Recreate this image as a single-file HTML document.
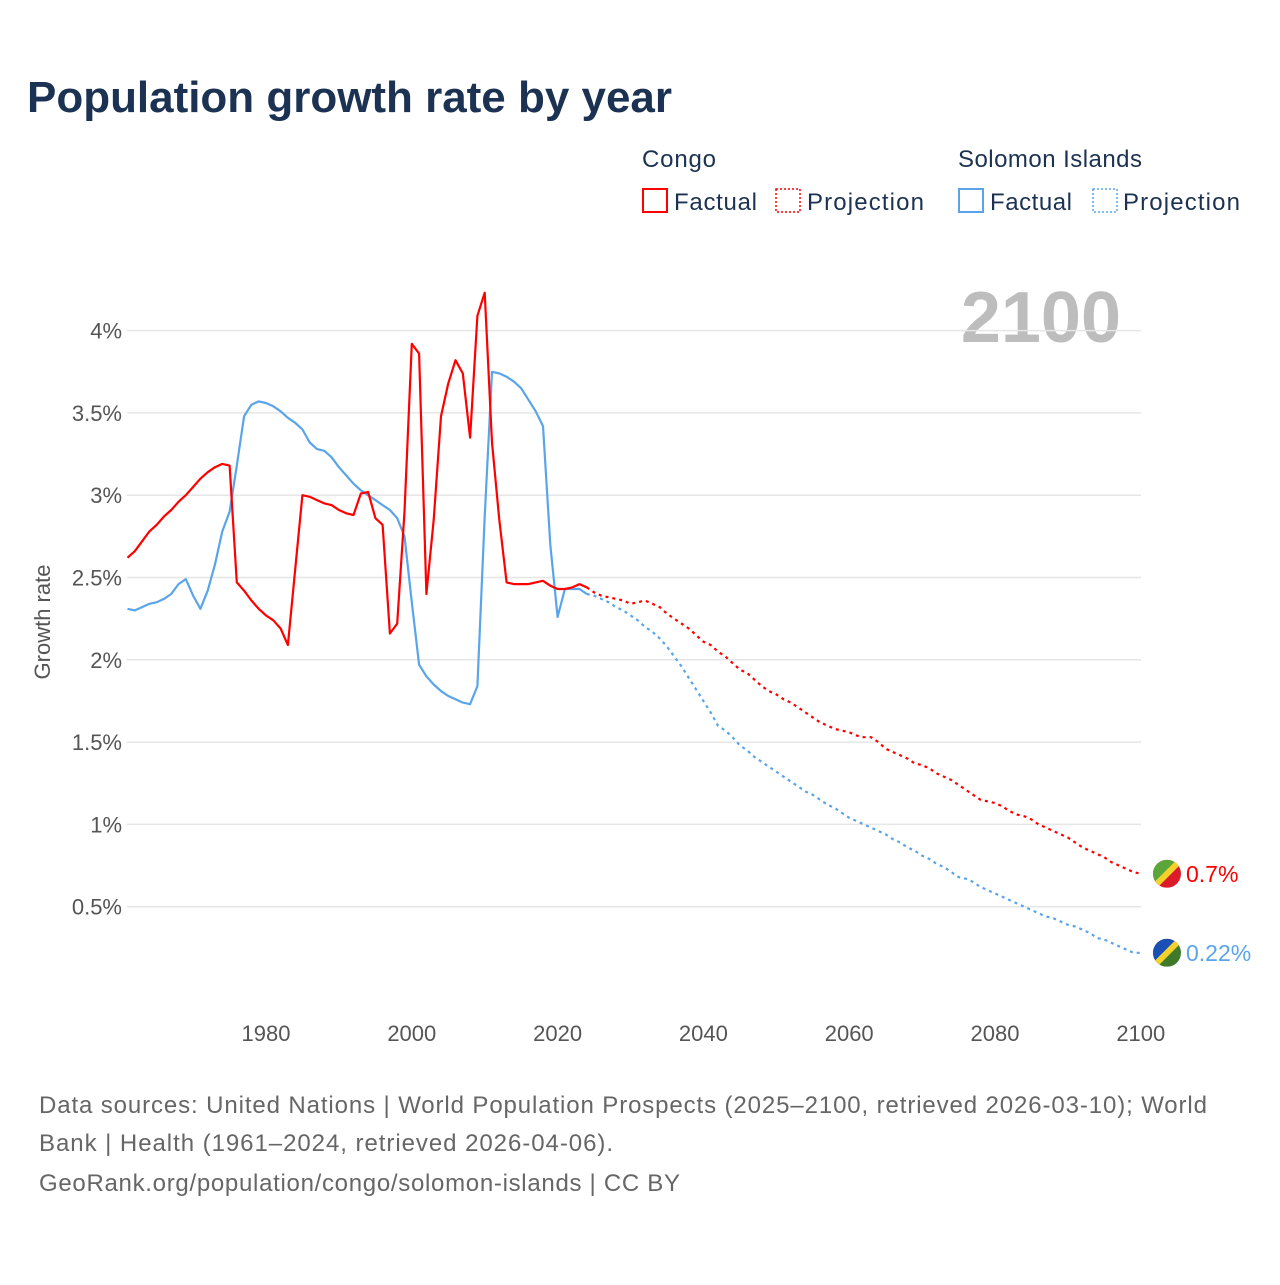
<!DOCTYPE html>
<html><head><meta charset="utf-8">
<style>
html,body{margin:0;padding:0;background:#fff;}
body{width:1280px;height:1280px;position:relative;font-family:"Liberation Sans",sans-serif;overflow:hidden;}
svg text{font-family:"Liberation Sans",sans-serif;}
</style></head>
<body>
<svg id="chart" width="1280" height="1280">
<text x="27" y="112" font-size="44" font-weight="bold" fill="#1b3252" textLength="645">Population growth rate by year</text>
<g font-size="24" fill="#1b3252">
<text x="642" y="167" fill="#1b3252" textLength="74">Congo</text>
<text x="958" y="167" fill="#1b3252" textLength="184">Solomon Islands</text>
<g><rect x="643" y="189" width="24" height="23" fill="none" stroke="#f00" stroke-width="2"/><text x="674" y="210" fill="#1b3252" textLength="83">Factual</text></g>
<g><rect x="776" y="189" width="24" height="23" fill="none" stroke="#f00" stroke-width="1.5" stroke-dasharray="2,2"/><text x="807" y="210" fill="#1b3252" textLength="117">Projection</text></g>
<g><rect x="959" y="189" width="24" height="23" fill="none" stroke="#5aa5ea" stroke-width="2"/><text x="990" y="210" fill="#1b3252" textLength="82">Factual</text></g>
<g><rect x="1093" y="189" width="24" height="23" fill="none" stroke="#5aa5ea" stroke-width="1.5" stroke-dasharray="2,2"/><text x="1123" y="210" fill="#1b3252" textLength="117">Projection</text></g>
</g>
<text x="1121" y="342" text-anchor="end" font-size="72" font-weight="bold" fill="#bdbdbd">2100</text>
<text transform="translate(50,622) rotate(-90)" text-anchor="middle" font-size="22" fill="#555">Growth rate</text>
<g id="grid"></g><g id="yt"></g><g id="xt"></g><g id="lines"></g><g id="ends"></g>
<g font-size="24" fill="#666">
<text x="39" y="1113" textLength="1168">Data sources: United Nations | World Population Prospects (2025–2100, retrieved 2026-03-10); World</text>
<text x="39" y="1151" textLength="574">Bank | Health (1961–2024, retrieved 2026-04-06).</text>
<text x="39" y="1191" textLength="641">GeoRank.org/population/congo/solomon-islands | CC BY</text>
</g>
</svg>
<script>
const yTicks=[0.5,1,1.5,2,2.5,3,3.5,4];
const yTickLabels=["0.5%","1%","1.5%","2%","2.5%","3%","3.5%","4%"];
const xTicks=[1980,2000,2020,2040,2060,2080,2100];
const factStart=1961, projStart=2025;
const congoFactual=[2.62,2.66,2.72,2.78,2.82,2.87,2.91,2.96,3.00,3.05,3.10,3.14,3.17,3.19,3.18,2.47,2.42,2.36,2.31,2.27,2.24,2.19,2.09,2.55,3.00,2.99,2.97,2.95,2.94,2.91,2.89,2.88,3.01,3.02,2.86,2.82,2.16,2.22,2.90,3.92,3.86,2.40,2.85,3.48,3.68,3.82,3.74,3.35,4.09,4.23,3.32,2.85,2.47,2.46,2.46,2.46,2.47,2.48,2.45,2.43,2.43,2.44,2.46,2.44];
const solomonFactual=[2.31,2.30,2.32,2.34,2.35,2.37,2.40,2.46,2.49,2.39,2.31,2.42,2.58,2.78,2.90,3.18,3.48,3.55,3.57,3.56,3.54,3.51,3.47,3.44,3.40,3.32,3.28,3.27,3.23,3.17,3.12,3.07,3.03,3.00,2.97,2.94,2.91,2.86,2.75,2.35,1.97,1.90,1.85,1.81,1.78,1.76,1.74,1.73,1.84,2.87,3.75,3.74,3.72,3.69,3.65,3.58,3.51,3.42,2.70,2.26,2.43,2.43,2.43,2.40];
const congoProjection=[2.41,2.39,2.38,2.37,2.36,2.34,2.35,2.36,2.34,2.32,2.28,2.25,2.22,2.19,2.15,2.11,2.09,2.05,2.02,1.98,1.94,1.92,1.88,1.84,1.81,1.79,1.76,1.74,1.71,1.68,1.65,1.62,1.60,1.58,1.57,1.56,1.54,1.53,1.53,1.50,1.46,1.44,1.42,1.40,1.37,1.36,1.34,1.31,1.29,1.27,1.24,1.21,1.18,1.15,1.14,1.13,1.11,1.08,1.06,1.05,1.03,1.00,0.98,0.96,0.94,0.92,0.89,0.86,0.84,0.82,0.80,0.77,0.75,0.73,0.71,0.70];
const solomonProjection=[2.39,2.37,2.35,2.32,2.30,2.27,2.24,2.20,2.17,2.13,2.08,2.02,1.96,1.89,1.82,1.75,1.68,1.60,1.57,1.53,1.48,1.45,1.41,1.38,1.35,1.32,1.29,1.26,1.23,1.20,1.18,1.15,1.12,1.10,1.07,1.04,1.02,1.00,0.98,0.96,0.94,0.91,0.89,0.86,0.84,0.81,0.79,0.76,0.74,0.71,0.68,0.67,0.65,0.62,0.60,0.58,0.56,0.54,0.52,0.50,0.48,0.46,0.44,0.43,0.41,0.39,0.38,0.36,0.34,0.31,0.30,0.28,0.26,0.24,0.22,0.22];

const NS="http://www.w3.org/2000/svg";
const X=y=>266+(y-1980)*7.29;
const Y=v=>989-v*164.6;
function mk(t,a,p){const e=document.createElementNS(NS,t);for(const k in a)e.setAttribute(k,a[k]);p.appendChild(e);return e;}
const grid=document.getElementById('grid'),yt=document.getElementById('yt'),xt=document.getElementById('xt'),lines=document.getElementById('lines'),ends=document.getElementById('ends');
yTicks.forEach((v,i)=>{
 const l=mk('line',{x1:127,x2:1141,y1:Y(v),y2:Y(v),stroke:'#e6e6e6','stroke-width':1.5},grid);
 
 
 const t=mk('text',{x:122,y:Y(v)+8,'text-anchor':'end','font-size':22,fill:'#555'},yt);
 t.textContent=yTickLabels[i];
 
 
});
xTicks.forEach(v=>{
 const t=mk('text',{x:X(v),y:1041,'text-anchor':'middle','font-size':22,fill:'#555'},xt);
 t.textContent=v;
 
 
});
function pts(arr,start){return arr.map((v,i)=>X(start+i).toFixed(1)+','+Y(v).toFixed(1));}
function draw(arr,start,color,dash,name,prev){
 let p=pts(arr,start);
 if(prev) p.unshift(X(start-1).toFixed(1)+','+Y(prev).toFixed(1));
 const a={points:p.join(' '),fill:'none',stroke:color,'stroke-width':2.2,'stroke-linejoin':'round'};
 if(dash)a['stroke-dasharray']=dash;
 const e=mk('polyline',a,lines);
 
 
}
draw(solomonFactual,factStart,'#5aa5ea',null,'solomon-factual-line');
draw(congoFactual,factStart,'#f00',null,'congo-factual-line');
draw(solomonProjection,projStart,'#5aa5ea','3,4','solomon-projection-line',solomonFactual[solomonFactual.length-1]);
draw(congoProjection,projStart,'#f00','3,4','congo-projection-line',congoFactual[congoFactual.length-1]);
function endMark(v,c1,c2,label,color,name){
 const cx=1167,cy=Y(v);
 const g=mk('g',{},ends);
 
 
 mk('clipPath',{id:name+'-clip'},g).appendChild(document.createElementNS(NS,'circle'));
 const cp=g.querySelector('clipPath circle');cp.setAttribute('cx',cx);cp.setAttribute('cy',cy);cp.setAttribute('r',14);
 const fg=mk('g',{'clip-path':'url(#'+name+'-clip)'},g);
 mk('rect',{x:cx-14,y:cy-14,width:28,height:28,fill:c2},fg);
 mk('polygon',{points:`${cx-14},${cy-14} ${cx+14},${cy-14} ${cx-14},${cy+14}`,fill:c1},fg);
 mk('line',{x1:cx-16,y1:cy+16,x2:cx+16,y2:cy-16,stroke:'#f2d22b','stroke-width':6},fg);
 const t=mk('text',{x:1186,y:cy+8,'font-size':23,fill:color},g);
 t.textContent=label;
}
endMark(congoProjection[congoProjection.length-1],'#5aa63b','#dc1b2a','0.7%','#f00','congo-end-marker');
endMark(solomonProjection[solomonProjection.length-1],'#1a4fb5','#3e7a2a','0.22%','#5aa5ea','solomon-end-marker');
</script>
</body></html>
